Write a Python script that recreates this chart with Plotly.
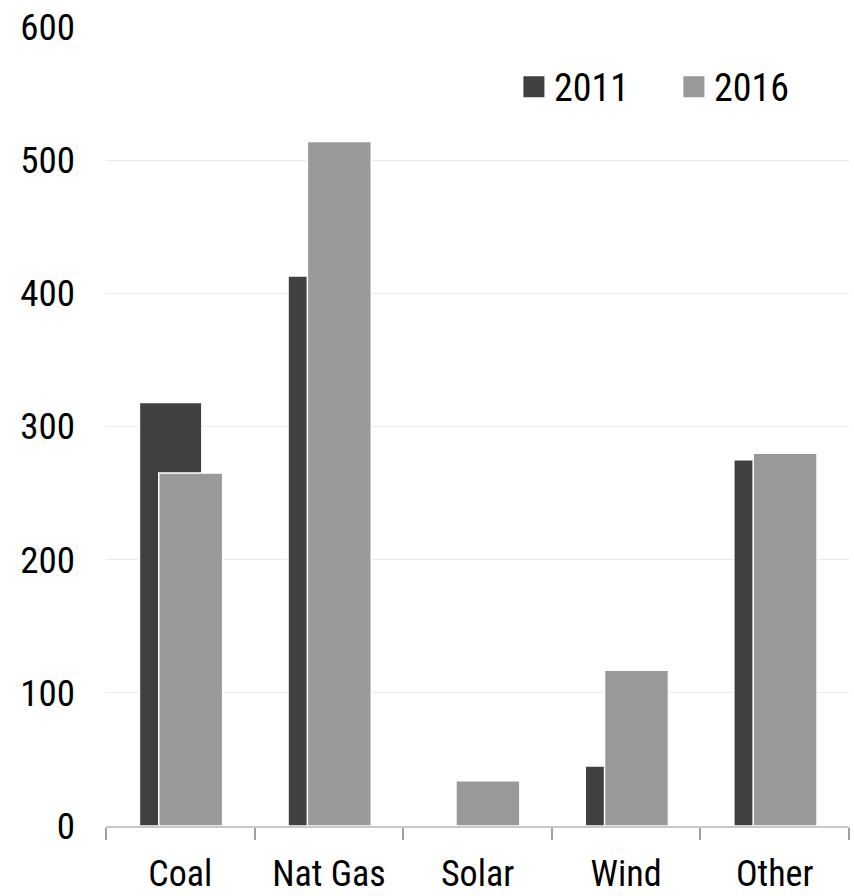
import plotly.graph_objects as go

categories = ["Coal", "Nat Gas", "Solar", "Wind", "Other"]
values_2011 = [318, 413, 1, 45, 275]
values_2016 = [265, 514, 34, 117, 280]
y_ticks = [0, 100, 200, 300, 400, 500, 600]

DARK = "#404040"
LIGHT = "#999999"
FONT = "Roboto Condensed"
W = "normal"

fig = go.Figure()
fig.add_trace(go.Bar(
    x=categories, y=values_2011, name="2011",
    marker=dict(color=DARK, line=dict(color="white", width=1.5)),
    offset=-0.275, width=0.42, showlegend=False,
))
fig.add_trace(go.Bar(
    x=categories, y=values_2016, name="2016",
    marker=dict(color=LIGHT, line=dict(color="white", width=1.5)),
    offset=-0.145, width=0.43, showlegend=False,
))
# legend entries with square swatches
fig.add_trace(go.Scatter(x=[None], y=[None], mode="markers", name="2011",
                         marker=dict(symbol="square", size=22, color=DARK,
                                     line=dict(color=DARK, width=5))))
fig.add_trace(go.Scatter(x=[None], y=[None], mode="markers", name="2016",
                         marker=dict(symbol="square", size=22, color=LIGHT,
                                     line=dict(color=LIGHT, width=5))))

fig.update_layout(
    width=854, height=896,
    margin=dict(l=106, r=5, t=27, b=70),
    paper_bgcolor="white", plot_bgcolor="white",
    barmode="overlay",
    font=dict(family=FONT, color="black", size=37, weight=W),
    legend=dict(orientation="h", x=0.549, y=0.925, xanchor="left", yanchor="middle",
                font=dict(size=38, family=FONT, weight=W), entrywidth=115,
                entrywidthmode="pixels", bgcolor="rgba(0,0,0,0)"),
    xaxis=dict(
        type="category", categoryorder="array", categoryarray=categories,
        tickson="boundaries", ticks="outside", ticklen=12, tickcolor="#a0a0a0",
        tickwidth=1.5, showline=True, linecolor="#c8c8c8", linewidth=2,
        showgrid=False, tickfont=dict(size=36, family=FONT, weight=W),
        ticklabelstandoff=15, automargin=False,
    ),
    yaxis=dict(
        range=[0, 600], tickvals=y_ticks, showgrid=True, gridcolor="#ebebeb",
        gridwidth=1, zeroline=False, showline=False, ticks="",
        ticklabelstandoff=30, tickfont=dict(size=37, family=FONT, weight=W),
        automargin=False,
    ),
)

fig.write_html("out.html")
